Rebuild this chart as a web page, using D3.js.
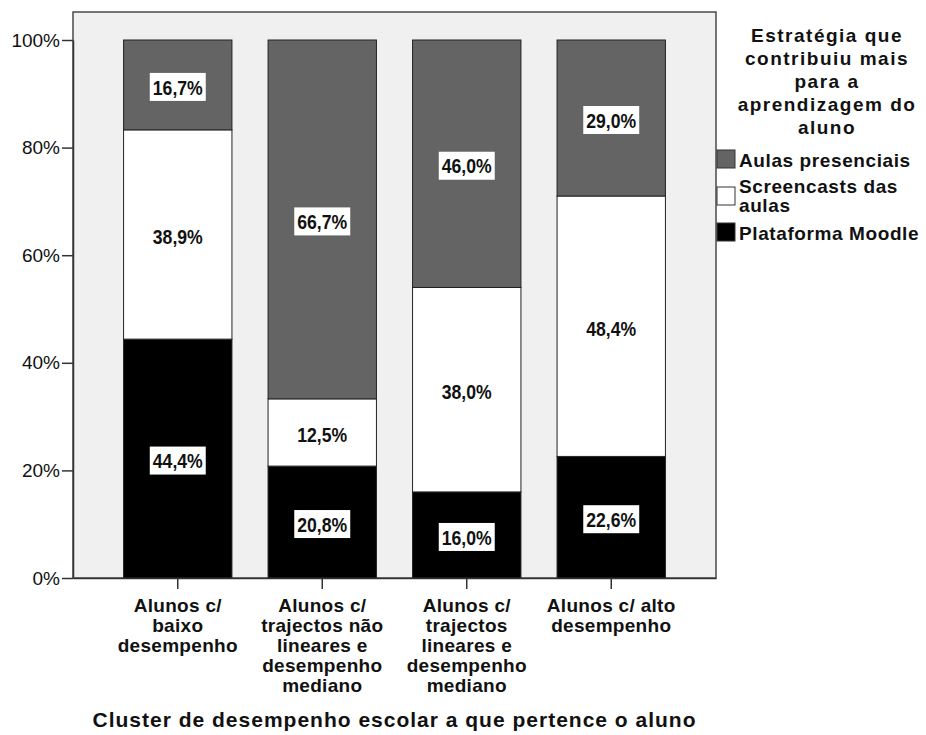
<!DOCTYPE html>
<html>
<head>
<meta charset="utf-8">
<script src="https://cdn.jsdelivr.net/npm/d3@7"></script>
<style>
  body { margin: 0; background: #fff; }
  svg text { font-family: "Liberation Sans", Arial, sans-serif; fill: #111; }
  .bold { font-weight: bold; }
</style>
</head>
<body>
<div id="chart"></div>
<script>
// categories (x axis), each split in the lines shown under the tick
const categories = [
  ["Alunos c/", "baixo", "desempenho"],
  ["Alunos c/", "trajectos não", "lineares e", "desempenho", "mediano"],
  ["Alunos c/", "trajectos", "lineares e", "desempenho", "mediano"],
  ["Alunos c/ alto", "desempenho"]
];
const seriesNames = ["Plataforma Moodle", "Screencasts das aulas", "Aulas presenciais"];
const moodle = [44.4, 20.8, 16.0, 22.6];
const screencasts = [38.9, 12.5, 38.0, 48.4];
const presenciais = [16.7, 66.7, 46.0, 29.0];
const yTicks = [0, 20, 40, 60, 80, 100];
const legendTitle = ["Estratégia que", "contribuiu mais", "para a", "aprendizagem do", "aluno"];
const legendLabels = [["Aulas presenciais"], ["Screencasts das", "aulas"], ["Plataforma Moodle"]];
const xTitle = "Cluster de desempenho escolar a que pertence o aluno";

const colors = {
  "Plataforma Moodle": "#000000",
  "Screencasts das aulas": "#ffffff",
  "Aulas presenciais": "#646464"
};

const width = 926, height = 735;
const frame = { left: 73, right: 716, top: 12, bottom: 578 };

const svg = d3.select("#chart").append("svg")
  .attr("width", width)
  .attr("height", height);

// build rows for the stack
const rows = categories.map((c, i) => ({
  key: i,
  "Plataforma Moodle": moodle[i],
  "Screencasts das aulas": screencasts[i],
  "Aulas presenciais": presenciais[i]
}));
const stacked = d3.stack().keys(seriesNames)(rows);

const x = d3.scaleBand()
  .domain(categories.map((c, i) => i))
  .range([frame.left, frame.right])
  .paddingInner(0.25)
  .paddingOuter(0.35);

const y = d3.scaleLinear().domain([0, 100]).range([frame.bottom, 40]);

// plot background / frame
svg.append("rect")
  .attr("x", frame.left)
  .attr("y", frame.top)
  .attr("width", frame.right - frame.left)
  .attr("height", frame.bottom - frame.top)
  .attr("fill", "#f0f0f0")
  .attr("stroke", "#4a4a4a")
  .attr("stroke-width", 1.5);

// bars
const layers = svg.append("g").selectAll("g")
  .data(stacked)
  .enter().append("g")
  .attr("fill", d => colors[d.key]);

layers.selectAll("rect")
  .data(d => d)
  .enter().append("rect")
  .attr("x", d => x(d.data.key))
  .attr("y", d => y(d[1]))
  .attr("width", x.bandwidth())
  .attr("height", d => y(d[0]) - y(d[1]))
  .attr("stroke", "#222")
  .attr("stroke-width", 1);

// value labels in white boxes (text squeezed a bit, like the narrow SPSS font)
const fmt = v => d3.format(".1f")(v).replace(".", ",") + "%";
const squeeze = 0.84;
const labels = svg.append("g");
stacked.forEach(layer => {
  layer.forEach(d => {
    const cx = x(d.data.key) + x.bandwidth() / 2;
    const cy = (y(d[0]) + y(d[1])) / 2 + 2;
    const g = labels.append("g");
    const box = g.append("rect");
    const t = g.append("text")
      .attr("class", "bold")
      .attr("transform", `translate(${cx},${cy}) scale(${squeeze},1)`)
      .attr("text-anchor", "middle")
      .attr("dominant-baseline", "central")
      .style("font-size", "21px")
      .text(fmt(d[1] - d[0]));
    const w = t.node().getBBox().width * squeeze;
    box.attr("x", cx - w / 2 - 3)
      .attr("y", cy - 14)
      .attr("width", w + 6)
      .attr("height", 28)
      .attr("fill", "#fff");
  });
});

// y axis
const yAxis = svg.append("g")
  .attr("transform", `translate(${frame.left},0)`)
  .call(d3.axisLeft(y).tickValues(yTicks).tickFormat(d => d + "%").tickSize(11).tickSizeOuter(0).tickPadding(2));
yAxis.select(".domain").attr("stroke", "#333").attr("stroke-width", 1.5);
yAxis.selectAll(".tick line").attr("stroke", "#333").attr("stroke-width", 1.5);
yAxis.selectAll(".tick text")
  .style("font-size", "19px")
  .style("font-family", "'Liberation Sans', Arial, sans-serif")
  .attr("fill", "#222");

// x axis
const xAxis = svg.append("g")
  .attr("transform", `translate(0,${frame.bottom})`)
  .call(d3.axisBottom(x).tickSize(11).tickSizeOuter(0).tickFormat(""));
xAxis.select(".domain").attr("stroke", "#333").attr("stroke-width", 1.5);
xAxis.selectAll(".tick line").attr("stroke", "#333").attr("stroke-width", 1.5);
xAxis.selectAll(".tick").each(function (d) {
  const t = d3.select(this).append("text")
    .attr("class", "bold")
    .attr("text-anchor", "middle")
    .style("font-size", "19px")
    .style("letter-spacing", "0.3px")
    .attr("fill", "#111");
  categories[d].forEach((line, i) => {
    t.append("tspan").attr("x", 0).attr("y", 34 + i * 20).text(line);
  });
});

// x axis title
svg.append("text")
  .attr("class", "bold")
  .attr("x", (frame.left + frame.right) / 2)
  .attr("y", 727)
  .attr("text-anchor", "middle")
  .style("font-size", "21px")
  .style("letter-spacing", "1px")
  .text(xTitle);

// legend
const legend = svg.append("g");
legend.append("text")
  .attr("class", "bold")
  .attr("text-anchor", "middle")
  .style("font-size", "19px")
  .style("letter-spacing", "1.5px")
  .selectAll("tspan")
  .data(legendTitle)
  .enter().append("tspan")
  .attr("x", 827)
  .attr("y", (d, i) => 42 + i * 23)
  .text(d => d);

const legendKeys = seriesNames.slice().reverse();
const swatchY = [150, 187, 223];
const textY = [167, 193, 240];
legendKeys.forEach((k, i) => {
  legend.append("rect")
    .attr("x", 717)
    .attr("y", swatchY[i])
    .attr("width", 18)
    .attr("height", 18)
    .attr("fill", colors[k])
    .attr("stroke", "#333")
    .attr("stroke-width", 1);
  const t = legend.append("text")
    .attr("class", "bold")
    .style("font-size", "19px")
    .style("letter-spacing", "0.6px");
  legendLabels[i].forEach((line, j) => {
    t.append("tspan").attr("x", 739).attr("y", textY[i] + j * 19).text(line);
  });
});
</script>
</body>
</html>
